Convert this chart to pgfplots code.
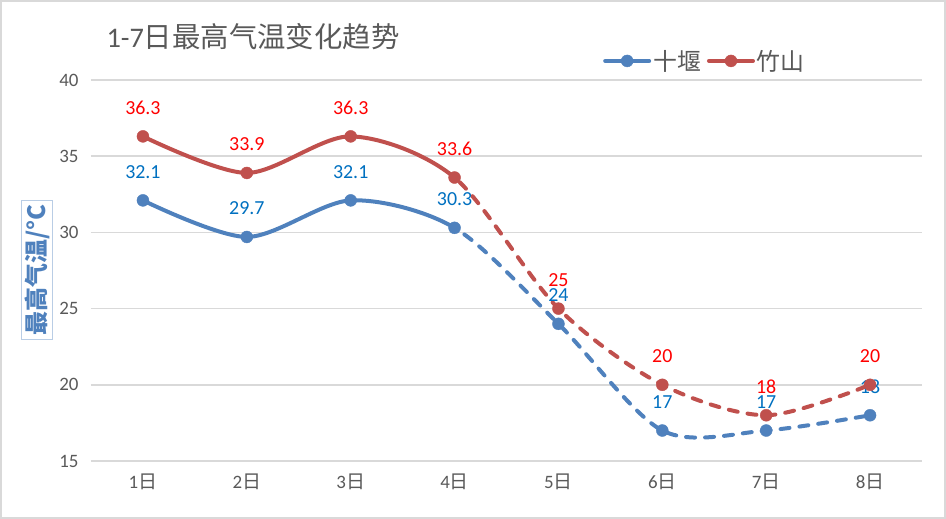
\documentclass[border=0pt]{standalone}
\usepackage{pgfplots}
\pgfplotsset{compat=1.18}
\usepackage{fontspec}
\setmainfont{Carlito}
\newfontfamily\cjk{Noto Sans CJK SC}
\definecolor{sblue}{HTML}{4F81BD}
\definecolor{sred}{HTML}{C0504D}
\definecolor{lblue}{HTML}{0070C0}
\definecolor{lred}{HTML}{FF0000}
\definecolor{tickgray}{HTML}{595959}
\definecolor{gridgray}{HTML}{D9D9D9}
\pgfplotstableread{
x sy zs
1 32.1 36.3
2 29.7 33.9
3 32.1 36.3
4 30.3 33.6
5 24 25
6 17 20
7 17 18
8 18 20
}\datatable
\begin{document}
\begin{tikzpicture}[x=1bp,y=1bp]
\useasboundingbox (-91,-58) rectangle (855,461);
\begin{axis}[
  at={(0,0)}, anchor=south west,
  scale only axis, width=831bp, height=381bp,
  xmin=0.5, xmax=8.5, ymin=15, ymax=40,
  xtick={1,...,8},
  xticklabels={1{\cjk 日},2{\cjk 日},3{\cjk 日},4{\cjk 日},5{\cjk 日},6{\cjk 日},7{\cjk 日},8{\cjk 日}},
  ytick={15,20,...,40},
  ymajorgrids, grid style={gridgray, line width=1.5bp},
  axis line style={draw=none},
  axis x line*=bottom,
  x axis line style={gridgray, line width=1.5bp},
  major tick length=0pt,
  tick label style={font=\fontsize{19}{21}\selectfont, text=tickgray},
  /pgf/number format/assume math mode=true,
  xticklabel style={yshift=-9bp},
  yticklabel style={xshift=-9bp},
  clip=false,
  legend style={at={(0.6125,1.05)}, anchor=west, draw=none, fill=none,
    legend columns=2, font=\fontsize{24}{26}\selectfont\cjk, text=tickgray,
    /tikz/every even column/.append style={column sep=4bp}},
  legend image code/.code={
    \draw[#1, solid, line width=4bp, line cap=round] (0bp,0bp) -- (44bp,0bp);
    \fill[#1] (22bp,0bp) circle (6bp);
  },
]
% blue series
\begin{scope}
\clip (axis cs:0.5,14) rectangle (axis cs:4,41);
\addplot[sblue, line width=4bp, smooth, no marks, forget plot] table[x=x,y=sy]{\datatable};
\end{scope}
\begin{scope}
\clip (axis cs:4,14) rectangle (axis cs:8.5,41);
\addplot[sblue, line width=4bp, smooth, no marks, dash pattern=on 9bp off 10bp, line cap=round, forget plot] table[x=x,y=sy]{\datatable};
\end{scope}
% red series
\begin{scope}
\clip (axis cs:0.5,14) rectangle (axis cs:4,41);
\addplot[sred, line width=4bp, smooth, no marks, forget plot] table[x=x,y=zs]{\datatable};
\end{scope}
\begin{scope}
\clip (axis cs:4,14) rectangle (axis cs:8.5,41);
\addplot[sred, line width=4bp, smooth, no marks, dash pattern=on 9bp off 10bp, line cap=round, forget plot] table[x=x,y=zs]{\datatable};
\end{scope}
% marks and labels
\addplot[sblue, only marks, mark=*, mark size=6bp,
  nodes near coords, point meta=explicit symbolic,
  every node near coord/.style={anchor=base, yshift=22bp, text=lblue, font=\fontsize{20}{22}\selectfont}]
  table[x=x,y=sy,meta=sy]{\datatable};
\addlegendentry{十堰}
\addplot[sred, only marks, mark=*, mark size=6bp,
  nodes near coords, point meta=explicit symbolic,
  every node near coord/.style={anchor=base, yshift=22bp, text=lred, font=\fontsize{20}{22}\selectfont}]
  table[x=x,y=zs,meta=zs]{\datatable};
\addlegendentry{竹山}
\end{axis}
% border and title
\draw[gridgray, line width=2bp] (-90,-57) rectangle (854,460);
\node[anchor=west, text=tickgray, font=\fontsize{28.5}{30}\selectfont] at (12,424) {1-7{\cjk 日最高气温变化趋势}};
\node[rotate=90, draw=sblue!40, line width=1.5bp, inner xsep=4bp, inner ysep=3bp, text=sblue, font=\fontsize{24}{26}\selectfont\cjk\bfseries] at (-54,191) {最高气温/°C};
\end{tikzpicture}
\end{document}
